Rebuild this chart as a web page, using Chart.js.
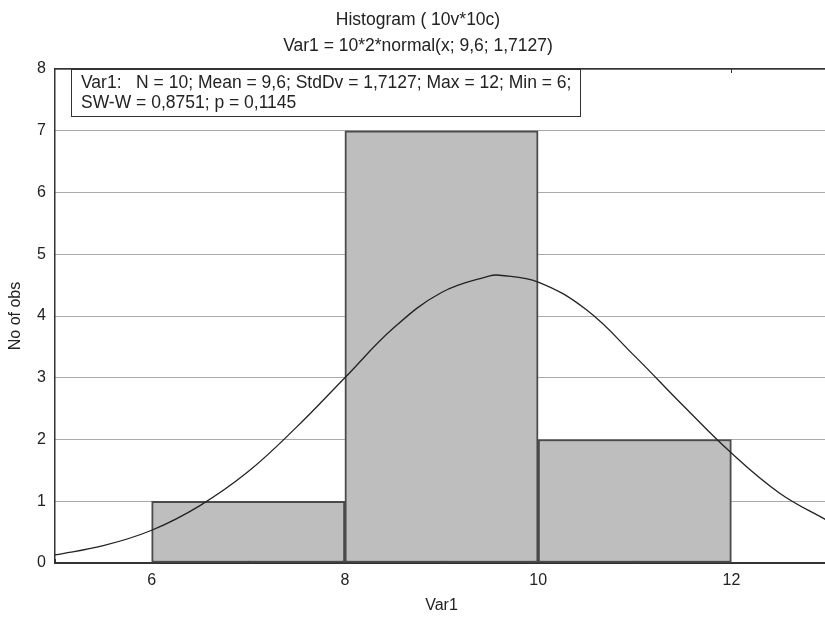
<!DOCTYPE html>
<html>
<head>
<meta charset="utf-8">
<script src="https://cdn.jsdelivr.net/npm/chart.js@4"></script>
<style>
  html, body { margin: 0; padding: 0; background: #fff; overflow: hidden; }
  #wrap { width: 828px; height: 617px; }
</style>
</head>
<body>
<div id="wrap"><canvas id="myChart" width="828" height="617"></canvas></div>
<script>
// histogram bins (centre, count)
var binCentres = [7, 9, 11];
var binCounts = [1, 7, 2];

// fitted normal curve
var curveX = [5, 5.5, 6, 6.5, 7, 7.5, 8, 8.5, 9, 9.5, 9.6, 10, 10.5, 11, 11.5, 12, 12.5, 13];
var curveY = [0.13, 0.28, 0.53, 0.93, 1.48, 2.2, 3.0, 3.8, 4.38, 4.65, 4.66, 4.55, 4.1, 3.35, 2.55, 1.78, 1.13, 0.68];

var xTicks = [6, 8, 10, 12];
var yTicks = [0, 1, 2, 3, 4, 5, 6, 7, 8];

var titleLines = ['Histogram ( 10v*10c)', 'Var1 = 10*2*normal(x; 9,6; 1,7127)'];
var statLines = ['Var1:   N = 10; Mean = 9,6; StdDv = 1,7127; Max = 12; Min = 6;', 'SW-W = 0,8751; p = 0,1145'];

var FONT = 'Arial, "Liberation Sans", sans-serif';

function toPoints(xs, ys) {
    let pts = [];
    for (let i = 0; i < xs.length; i++) {
        pts.push({x: xs[i], y: ys[i]});
    }
    return pts;
}

function setXTicks(scale) {
    scale.ticks = xTicks.map(function(v) { return {value: v}; });
}

// titles and the stats box
var textPlugin = {
    id: 'textBlocks',
    afterDraw: function(chart) {
        let ctx = chart.ctx;
        let area = chart.chartArea;
        ctx.save();
        ctx.fillStyle = '#222';
        ctx.font = '17.5px ' + FONT;
        ctx.textAlign = 'center';
        ctx.textBaseline = 'middle';
        ctx.fillText(titleLines[0], 418, 20);
        ctx.fillText(titleLines[1], 418, 46);

        ctx.fillStyle = '#fff';
        ctx.fillRect(71, area.top, 509, 47);
        ctx.strokeStyle = '#333';
        ctx.lineWidth = 1;
        ctx.strokeRect(71.5, area.top + 0.5, 509, 47);
        ctx.fillStyle = '#222';
        ctx.font = '17.5px ' + FONT;
        ctx.textAlign = 'left';
        ctx.fillText(statLines[0], 81, area.top + 14);
        ctx.fillText(statLines[1], 81, area.top + 34);
        ctx.restore();
    }
};

var data = {
    datasets: [
        {
            type: 'line',
            label: 'normal',
            data: toPoints(curveX, curveY),
            borderColor: '#222',
            borderWidth: 1.3,
            pointRadius: 0,
            fill: false,
            tension: 0.4,
            order: 0
        },
        {
            type: 'bar',
            label: 'Var1',
            data: toPoints(binCentres, binCounts),
            backgroundColor: '#bebebe',
            borderColor: '#4a4a4a',
            borderWidth: 2,
            borderSkipped: false,
            barPercentage: 1,
            categoryPercentage: 1,
            order: 1
        }
    ]
};

var config = {
    data: data,
    plugins: [textPlugin],
    options: {
        responsive: false,
        animation: false,
        layout: {padding: {top: 69, left: 0, right: 0, bottom: 0}},
        plugins: {
            legend: {display: false},
            tooltip: {enabled: false}
        },
        scales: {
            x: {
                type: 'linear',
                position: 'bottom',
                offset: false,
                min: 5,
                max: 13,
                afterBuildTicks: setXTicks,
                afterFit: function(scale) { scale.height = 54; },
                grid: {display: true, drawOnChartArea: false, drawTicks: true, tickLength: -4, tickColor: '#333'},
                border: {display: true, color: '#333', width: 2},
                ticks: {font: {family: FONT, size: 16}, color: '#222', padding: 12},
                title: {
                    display: true,
                    text: 'Var1',
                    font: {family: FONT, size: 16},
                    color: '#222',
                    padding: {top: 0, bottom: 2}
                }
            },
            xTop: {
                type: 'linear',
                position: 'top',
                offset: false,
                min: 5,
                max: 13,
                afterBuildTicks: setXTicks,
                afterFit: function(scale) { scale.height = 0; },
                grid: {display: true, drawOnChartArea: false, drawTicks: true, tickLength: -4, tickColor: '#333'},
                border: {display: true, color: '#333', width: 1.5},
                ticks: {display: false}
            },
            y: {
                min: 0,
                max: 8,
                afterBuildTicks: function(scale) {
                    scale.ticks = yTicks.map(function(v) { return {value: v}; });
                },
                afterFit: function(scale) { scale.width = 55; },
                grid: {color: '#555', lineWidth: 1, drawTicks: false},
                border: {display: true, color: '#333', width: 1.5, dash: [1, 1]},
                ticks: {font: {family: FONT, size: 16}, color: '#222', padding: 9},
                title: {
                    display: true,
                    text: 'No of obs',
                    font: {family: FONT, size: 16},
                    color: '#222',
                    padding: {top: 6, bottom: 0}
                }
            }
        }
    }
};

var ctx = document.getElementById('myChart').getContext('2d');
var myChart = new Chart(ctx, config);
</script>
</body>
</html>
